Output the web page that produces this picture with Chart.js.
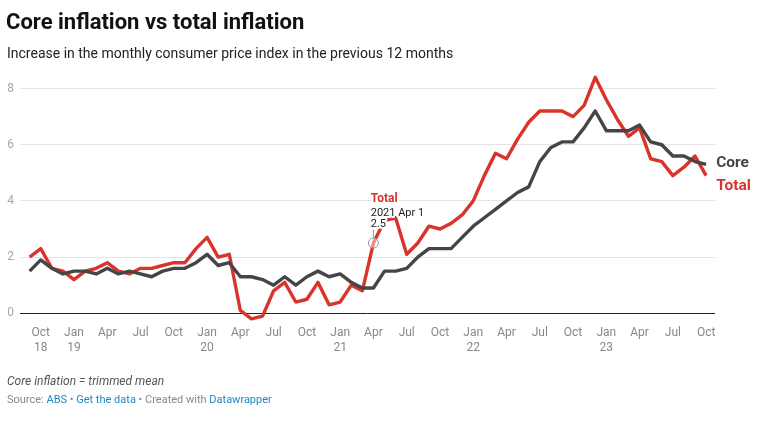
<!DOCTYPE html>
<html>
<head>
<meta charset="utf-8">
<script src="https://cdn.jsdelivr.net/npm/chart.js@4"></script>
<style>
  body { margin: 0; background: #fff; font-family: Roboto, sans-serif; }
  #wrap { position: relative; width: 772px; height: 422px; overflow: hidden; }
  #c { position: absolute; left: 0; top: 0; }
  .txt { position: absolute; white-space: nowrap; }
  .title { left: 6px; top: 10.8px; font: 700 22px/22px Roboto; color: #111; }
  .sub { left: 7px; top: 45.5px; font: 400 14px/14px Roboto; color: #222; }
  .note { left: 7px; top: 374.9px; font: italic 400 12px/12px Roboto; color: #555; }
  .src { left: 7px; top: 393.5px; font: 400 11px/11px Roboto; color: #8a8a8a; }
  .src a { color: #1c88c7; text-decoration: none; }
</style>
</head>
<body>
<div id="wrap">
  <canvas id="c" width="772" height="422"></canvas>
  <div class="txt title">Core inflation vs total inflation</div>
  <div class="txt sub">Increase in the monthly consumer price index in the previous 12 months</div>
  <div class="txt note">Core inflation = trimmed mean</div>
  <div class="txt src">Source: <a>ABS</a> • <a>Get the data</a> • Created with <a>Datawrapper</a></div>
</div>
<script>
// months, Sep 2018 .. Oct 2023
var months = [
  'Sep 2018','Oct 2018','Nov 2018','Dec 2018',
  'Jan 2019','Feb 2019','Mar 2019','Apr 2019','May 2019','Jun 2019','Jul 2019','Aug 2019','Sep 2019','Oct 2019','Nov 2019','Dec 2019',
  'Jan 2020','Feb 2020','Mar 2020','Apr 2020','May 2020','Jun 2020','Jul 2020','Aug 2020','Sep 2020','Oct 2020','Nov 2020','Dec 2020',
  'Jan 2021','Feb 2021','Mar 2021','Apr 2021','May 2021','Jun 2021','Jul 2021','Aug 2021','Sep 2021','Oct 2021','Nov 2021','Dec 2021',
  'Jan 2022','Feb 2022','Mar 2022','Apr 2022','May 2022','Jun 2022','Jul 2022','Aug 2022','Sep 2022','Oct 2022','Nov 2022','Dec 2022',
  'Jan 2023','Feb 2023','Mar 2023','Apr 2023','May 2023','Jun 2023','Jul 2023','Aug 2023','Sep 2023','Oct 2023'
];

// trimmed mean, % change over 12 months
var core = [
  1.5, 1.9, 1.6, 1.4,
  1.5, 1.5, 1.4, 1.6, 1.4, 1.5, 1.4, 1.3, 1.5, 1.6, 1.6, 1.8,
  2.1, 1.7, 1.8, 1.3, 1.3, 1.2, 1.0, 1.3, 1.0, 1.3, 1.5, 1.3,
  1.4, 1.1, 0.9, 0.9, 1.5, 1.5, 1.6, 2.0, 2.3, 2.3, 2.3, 2.7,
  3.1, 3.4, 3.7, 4.0, 4.3, 4.5, 5.4, 5.9, 6.1, 6.1, 6.6, 7.2,
  6.5, 6.5, 6.5, 6.7, 6.1, 6.0, 5.6, 5.6, 5.4, 5.3
];

// all items CPI, % change over 12 months
var total = [
  2.0, 2.3, 1.6, 1.5,
  1.2, 1.5, 1.6, 1.8, 1.5, 1.4, 1.6, 1.6, 1.7, 1.8, 1.8, 2.3,
  2.7, 2.0, 2.1, 0.1, -0.2, -0.1, 0.8, 1.1, 0.4, 0.5, 1.1, 0.3,
  0.4, 1.0, 0.8, 2.5, 3.3, 3.4, 2.1, 2.5, 3.1, 3.0, 3.2, 3.5,
  4.0, 4.9, 5.7, 5.5, 6.2, 6.8, 7.2, 7.2, 7.2, 7.0, 7.4, 8.4,
  7.6, 6.9, 6.3, 6.6, 5.5, 5.4, 4.9, 5.2, 5.6, 4.9
];

var yTicks = [0, 2, 4, 6, 8];
var xTickMonths = ['Jan', 'Apr', 'Jul', 'Oct'];

// highlighted point
var noteIndex = 31;

var coreColor = '#454545';
var totalColor = '#d9342b';

Chart.defaults.font.family = 'Roboto';

function points(arr) {
    return arr.map(function (v, i) { return { x: i, y: v }; });
}

// line end labels + the hover note on Total
var labelsPlugin = {
    id: 'labels',
    afterDatasetsDraw: function (chart) {
        var ctx = chart.ctx;
        var xs = chart.scales.x, ys = chart.scales.y;
        var last = months.length - 1;

        // note on the total line
        var px = xs.getPixelForValue(noteIndex);
        var py = ys.getPixelForValue(total[noteIndex]);
        ctx.save();
        ctx.strokeStyle = '#9a9a9a';
        ctx.lineWidth = 1;
        ctx.beginPath();
        ctx.moveTo(px, py - 13.5);
        ctx.lineTo(px, py - 5.5);
        ctx.stroke();
        ctx.beginPath();
        ctx.arc(px, py, 5, 0, Math.PI * 2);
        ctx.fillStyle = 'rgba(255,255,255,0.45)';
        ctx.fill();
        ctx.stroke();

        var rows = [
            { t: 'Total', font: '700 12px Roboto', color: totalColor, dy: -41 },
            { t: months[noteIndex].split(' ')[1] + ' ' + months[noteIndex].split(' ')[0] + ' 1', font: '400 11px Roboto', color: '#222', dy: -27.5 },
            { t: String(total[noteIndex]), font: '400 11px Roboto', color: '#222', dy: -15.7 }
        ];
        ctx.textAlign = 'left';
        ctx.textBaseline = 'alphabetic';
        ctx.lineJoin = 'round';
        rows.forEach(function (r) {
            ctx.font = r.font;
            ctx.strokeStyle = '#fff';
            ctx.lineWidth = 4;
            ctx.strokeText(r.t, px - 2.7, py + r.dy);
            ctx.fillStyle = r.color;
            ctx.fillText(r.t, px - 2.7, py + r.dy);
        });

        // end labels, pushed apart when too close
        var lx = xs.getPixelForValue(last) + 10;
        var yc = ys.getPixelForValue(core[last]);
        var yt = ys.getPixelForValue(total[last]);
        var gap = 23;
        if (Math.abs(yt - yc) < gap) {
            var mid = (yc + yt) / 2;
            yc = mid - gap / 2;
            yt = mid + gap / 2;
        }
        ctx.font = '700 15.5px Roboto';
        ctx.fillStyle = coreColor;
        ctx.fillText('Core', lx, yc + 8);
        ctx.fillStyle = totalColor;
        ctx.fillText('Total', lx, yt + 8.7);
        ctx.restore();
    }
};

var chart = new Chart(document.getElementById('c'), {
    type: 'line',
    data: {
        datasets: [
            {
                label: 'Core',
                data: points(core),
                borderColor: coreColor,
                borderWidth: 3.4,
                pointRadius: 0,
                tension: 0,
                borderJoinStyle: 'round'
            },
            {
                label: 'Total',
                data: points(total),
                borderColor: totalColor,
                borderWidth: 3.4,
                pointRadius: 0,
                tension: 0,
                borderJoinStyle: 'round'
            }
        ]
    },
    options: {
        responsive: false,
        animation: false,
        events: [],
        layout: {
            padding: { top: 74.5, right: 57, bottom: 62.3, left: 0 }
        },
        plugins: {
            legend: { display: false },
            tooltip: { enabled: false }
        },
        scales: {
            x: {
                type: 'linear',
                min: -0.87,
                max: 61.8,
                afterBuildTicks: function (scale) {
                    var t = [];
                    months.forEach(function (m, i) {
                        if (xTickMonths.indexOf(m.split(' ')[0]) >= 0) t.push({ value: i });
                    });
                    scale.ticks = t;
                },
                afterFit: function (scale) { scale.height = 38; },
                grid: { display: false, drawTicks: false },
                border: { display: false },
                ticks: {
                    autoSkip: false,
                    maxRotation: 0,
                    padding: 4,
                    color: '#888',
                    font: { size: 12, lineHeight: 1.22 },
                    callback: function (v) {
                        var parts = months[v].split(' ');
                        if (v === 1 || parts[0] === 'Jan') return [parts[0], parts[1].slice(2)];
                        return parts[0];
                    }
                }
            },
            y: {
                min: -0.3,
                max: 8.5,
                afterBuildTicks: function (scale) {
                    scale.ticks = yTicks.map(function (v) { return { value: v }; });
                },
                afterFit: function (scale) { scale.width = 20; },
                grid: {
                    drawTicks: false,
                    color: function (c) { return c.tick && c.tick.value === 0 ? '#222' : '#e4e4e4'; }
                },
                border: { display: false },
                ticks: {
                    padding: 6,
                    color: '#a8a8a8',
                    font: { size: 12 }
                }
            }
        }
    },
    plugins: [labelsPlugin]
});
</script>
</body>
</html>
